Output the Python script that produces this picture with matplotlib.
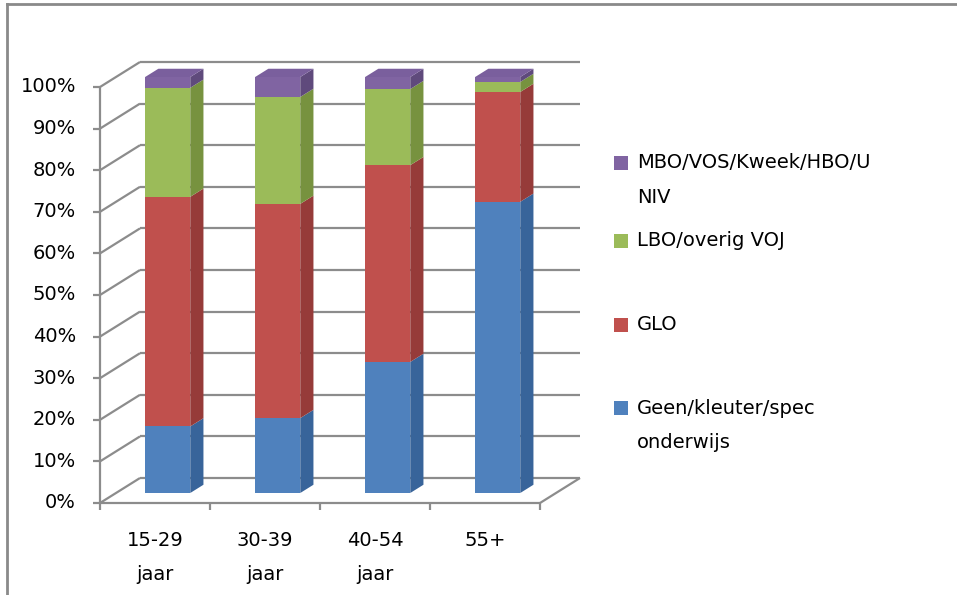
import numpy as np
import matplotlib
matplotlib.use('Agg')
import matplotlib.pyplot as plt
from matplotlib.patches import Polygon, Rectangle
from matplotlib.lines import Line2D

# data (percent of each age group)
categories = ['15-29\njaar', '30-39\njaar', '40-54\njaar', '55+']
series_names = ['Geen/kleuter/spec\nonderwijs', 'GLO', 'LBO/overig VOJ', 'MBO/VOS/Kweek/HBO/U\nNIV']
geen = [16.0, 18.0, 31.5, 70.0]
glo = [55.2, 51.5, 47.3, 26.4]
lbo = [26.2, 25.7, 18.3, 2.4]
mbo = [2.6, 4.8, 2.9, 1.2]
yticks = [0, 10, 20, 30, 40, 50, 60, 70, 80, 90, 100]

front_col = ['#4F81BD', '#C0504D', '#9BBB59', '#8064A2']
side_col = ['#38649A', '#963B39', '#77923F', '#5F4A7C']
top_col = ['#5A8BC6', '#C85C59', '#A5C466', '#7A5F9D']
grid_col = '#8C8C8C'

W, H = 957, 595
fig = plt.figure(figsize=(W / 100, H / 100), dpi=100)

# pixel layout of the front plane
x0_px, y0_px = 100, 503
cat_px = 110.0
pct_px = 4.16
depth_px = (40, 25)
ax_w_px, ax_h_px = 500, 470
ax = fig.add_axes([x0_px / W, (H - y0_px) / H, ax_w_px / W, ax_h_px / H])
ax.set_xlim(-0.5, -0.5 + ax_w_px / cat_px)
ax.set_ylim(0, ax_h_px / pct_px)
ax.axis('off')

DX = depth_px[0] / cat_px
DY = depth_px[1] / pct_px
n = len(categories)
left, right = -0.5, n - 0.5

def line(xs, ys, z=1, lw=1.6):
    ax.add_line(Line2D(xs, ys, color=grid_col, lw=lw, zorder=z, clip_on=False,
                       solid_capstyle='butt'))

# back wall gridlines and left wall
for v in yticks:
    line([left + DX, right + DX], [v + DY, v + DY])
    line([left, left + DX], [v, v + DY])
    line([left - 7 / cat_px, left], [v, v])
    ax.text(left - 24 / cat_px, v, f'{v}%', ha='right', va='center',
            fontsize=14, color='black')
line([left, left], [0, 100])
# floor
line([left, right], [0, 0])
line([right, right + DX], [0, DY])
for k in range(n + 1):
    line([left + k, left + k], [0, -7 / pct_px])

# category labels
for i, lab in enumerate(categories):
    for j, part in enumerate(lab.split('\n')):
        ax.text(i, -(37 + 35 * j) / pct_px, part, ha='center', va='center',
                fontsize=14, color='black')

# 3D stacked bars
bar_w = 0.41
d1, d2 = 0.40, 0.73
stack = np.array([geen, glo, lbo, mbo])
bottoms = np.vstack([np.zeros(n), np.cumsum(stack, axis=0)[:-1]])
for i in range(n):
    cx = i - 0.03
    fx = cx - bar_w / 2 + d1 * DX
    fy = d1 * DY
    ddx, ddy = (d2 - d1) * DX, (d2 - d1) * DY
    for s in range(stack.shape[0]):
        b = bottoms[s, i]
        t = b + stack[s, i]
        ax.add_patch(Rectangle((fx, fy + b), bar_w, t - b, facecolor=front_col[s],
                               edgecolor='none', zorder=3, clip_on=False))
        ax.add_patch(Polygon([(fx + bar_w, fy + b), (fx + bar_w + ddx, fy + b + ddy),
                              (fx + bar_w + ddx, fy + t + ddy), (fx + bar_w, fy + t)],
                             closed=True, facecolor=side_col[s], edgecolor='none',
                             zorder=3, clip_on=False))
    t = bottoms[-1, i] + stack[-1, i]
    ax.add_patch(Polygon([(fx, fy + t), (fx + bar_w, fy + t),
                          (fx + bar_w + ddx, fy + t + ddy), (fx + ddx, fy + t + ddy)],
                         closed=True, facecolor=top_col[-1], edgecolor='none',
                         zorder=3, clip_on=False))

# legend (drawn top to bottom, last series first)
leg_y = [163, 241, 325, 408]
for k, s in enumerate(range(len(series_names) - 1, -1, -1)):
    y = leg_y[k]
    fig.patches.append(Rectangle((614 / W, 1 - (y + 7) / H), 14 / W, 14 / H,
                                 facecolor=front_col[s], edgecolor='none',
                                 transform=fig.transFigure))
    for j, part in enumerate(series_names[s].split('\n')):
        fig.text(637 / W, 1 - (y + 35 * j) / H, part, ha='left', va='center',
                 fontsize=14, color='black')

# chart border
fig.add_artist(Line2D([7 / W, 7 / W], [0, 1 - 4 / H], color='#8A8A8A', lw=2,
                      transform=fig.transFigure))
fig.add_artist(Line2D([7 / W, 1], [1 - 4 / H, 1 - 4 / H], color='#8A8A8A', lw=2,
                      transform=fig.transFigure))

fig.savefig('out.png', dpi=100)
